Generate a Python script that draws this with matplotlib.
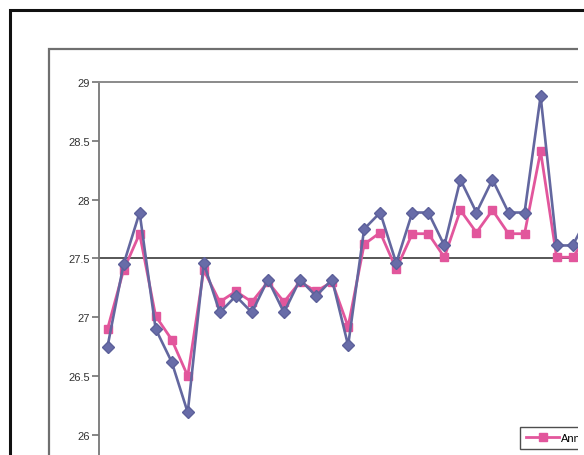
import matplotlib
matplotlib.use("Agg")
import matplotlib.pyplot as plt
from matplotlib.patches import Rectangle

# ---- data ----
categories = list(range(1, 32))
annual = [26.90, 27.40, 27.71, 27.01, 26.81, 26.50, 27.40, 27.13, 27.22, 27.13,
          27.30, 27.13, 27.30, 27.22, 27.30, 26.92, 27.62, 27.72, 27.41, 27.71,
          27.71, 27.51, 27.91, 27.72, 27.91, 27.71, 27.71, 28.41, 27.51, 27.51,
          27.70]
series2 = [26.75, 27.45, 27.89, 26.90, 26.62, 26.19, 27.46, 27.04, 27.18, 27.04,
           27.32, 27.04, 27.32, 27.18, 27.32, 26.76, 27.75, 27.89, 27.46, 27.89,
           27.89, 27.61, 28.17, 27.89, 28.17, 27.89, 27.89, 28.88, 27.61, 27.61,
           27.87]
reference_level = 27.5
y_ticks = [26, 26.5, 27, 27.5, 28, 28.5, 29]
legend_label = "Annual"

W, H = 584, 456
fig = plt.figure(figsize=(W / 100, H / 100), dpi=100)
plt.rcParams['font.family'] = ['Liberation Sans', 'DejaVu Sans']

# layout in pixels
ax_left_px = 99.5
step_px = 16.04
top_px = 83
unit_px = 117.6
xmin, xmax = -0.5, 35.5
ymin, ymax = 25.5, 29.0
ax_w = (xmax - xmin) * step_px
ax_h = (ymax - ymin) * unit_px
ax = fig.add_axes([ax_left_px / W, 1 - (top_px + ax_h) / H, ax_w / W, ax_h / H])
ax.set_xlim(xmin, xmax)
ax.set_ylim(ymin, ymax)

xs = list(range(len(categories)))
ax.axhline(reference_level, color="#3a3a3a", lw=1.2, zorder=1)
ax.plot(xs, annual, color="#E2569C", lw=2.0, marker="s", ms=6.2,
        mec="#E2569C", mfc="#E2569C", zorder=3, label=legend_label)
ax.plot(xs, series2, color="#63679F", lw=1.9, marker="D", ms=5.8,
        mec="#5C609A", mfc="#686CA8", zorder=4)

ax.set_yticks(y_ticks)
ax.set_yticklabels([f"{v:g}" for v in y_ticks], fontsize=8, color="#333333")
ax.set_xticks([])
ax.tick_params(axis="y", direction="out", length=5, width=1.1, color="#666666", pad=2)
for s in ("right", "bottom"):
    ax.spines[s].set_visible(False)
ax.spines["left"].set_color("#777777")
ax.spines["left"].set_linewidth(1.3)
ax.spines["top"].set_color("#8a8a8a")
ax.spines["top"].set_linewidth(1.4)

# legend (partly outside the picture, as in the scan)
fig.legend(handles=[ax.lines[1]], labels=[legend_label], loc="upper left",
           bbox_to_anchor=(520 / W, 1 - 428 / H), borderaxespad=0,
           frameon=True, fancybox=False, edgecolor="#222222", fontsize=8,
           handlelength=3.0, handletextpad=0.15, borderpad=0.55)
fig.legends[0].get_frame().set_linewidth(1.0)

# chart-area border (gray) and outer frame (black)
fig.add_artist(Rectangle((49 / W, -1), 2, 1 - 50 / H + 1, transform=fig.transFigure,
                         fill=False, edgecolor="#6f6f6f", lw=1.6, zorder=-1))
fig.add_artist(Rectangle((9.5 / W, -1), 2, 1 - 10.5 / H + 1, transform=fig.transFigure,
                         fill=False, edgecolor="#111111", lw=2.2, zorder=12))
# the scan ends slightly before the right edge
fig.add_artist(Rectangle((578 / W, 0), 10 / W, 1 - 14 / H, transform=fig.transFigure,
                         facecolor="white", edgecolor="none", zorder=10))

fig.savefig("out.png", dpi=100)
